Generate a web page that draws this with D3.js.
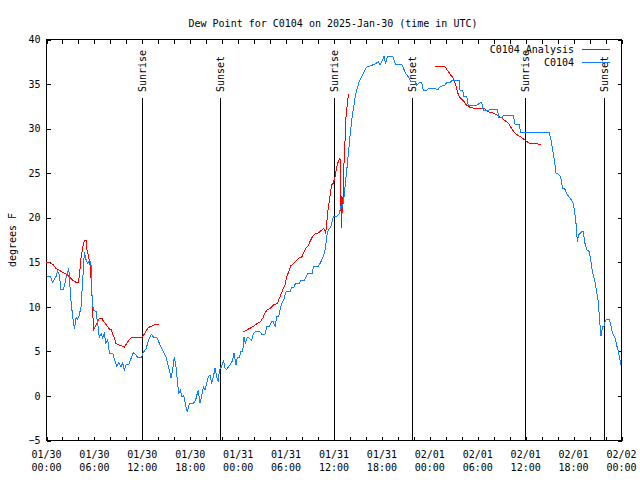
<!DOCTYPE html>
<html>
<head>
<meta charset="utf-8">
<script src="https://cdn.jsdelivr.net/npm/d3@7"></script>
<style>
  html, body { margin: 0; padding: 0; background: #fff; }
  svg { display: block; }
  text { font-family: "DejaVu Sans Mono", "Liberation Mono", monospace; font-size: 10px; fill: #000; }
</style>
</head>
<body>
<svg id="chart" width="640" height="480"></svg>
<script>
// ---- Data (hours since 2025-01-30 00:00 UTC, dew point in °F) ----
const titleText = "Dew Point for C0104 on 2025-Jan-30 (time in UTC)";
const yLabelText = "degrees F";
const seriesNames = ["C0104 Analysis", "C0104"];
const seriesColors = ["#ff0000", "#1080ff"];

const obsHours = [0.0,0.5,0.77,0.98,1.19,1.4,1.6,1.82,2.1,2.23,2.44,2.65,2.78,2.94,3.07,3.28,3.49,3.7,3.9,4.11,4.32,4.53,4.74,4.95,5.15,5.36,5.57,5.65,5.86,6.2,6.41,6.62,6.83,7.03,7.24,7.45,7.66,7.87,8.28,8.49,8.79,9.04,9.33,9.54,9.75,9.95,10.29,10.58,10.87,11.12,11.42,11.92,12.04,12.46,12.67,12.88,13.13,13.38,13.8,14.13,14.55,14.96,15.17,15.38,15.59,15.8,16.0,16.21,16.42,16.55,16.76,16.97,17.18,17.38,17.63,17.88,18.3,18.51,18.72,
  18.8,19.0,19.22,19.43,19.64,19.85,20.06,20.27,20.48,20.69,20.9,21.1,21.31,21.52,21.65,21.94,22.15,22.36,22.56,22.98,23.31,23.48,23.73,23.9,24.15,24.32,24.57,24.73,24.9,25.15,25.4,25.69,25.9,26.15,26.74,26.95,27.36,27.57,27.9,28.2,28.41,28.62,28.82,29.07,29.24,29.45,29.74,29.99,30.49,30.7,30.99,31.16,31.66,31.83,32.25,32.5,32.7,33.29,33.41,34.04,34.46,34.75,34.96,35.08,35.29,35.6,35.92,36.4,36.67,36.84,37.05,37.17,37.38,37.6,37.8,38.0,38.2,38.4,38.63,38.84,39.17,39.47,39.76,40.1,40.72,41.14,41.55,41.76,41.97,42.26,42.47,42.68,43.35,43.52,43.68,44.48,44.68,44.98,45.31,45.6,46.14,46.35,46.77,46.98,47.19,47.6,47.81,48.44,49.07,49.27,49.9,50.11,50.53,50.74,51.7,51.78,52.11,52.28,52.61,52.82,53.87,54.28,54.5,54.7,55.3,55.53,56.45,56.66,57.0,57.2,58.45,58.66,59.2,59.37,62.96,63.17,63.38,63.59,63.8,64.09,64.38,64.63,64.92,65.2,65.55,65.88,66.1,66.3,66.47,66.6,66.8,67.0,67.22,67.43,67.64,67.97,68.14,68.39,68.68,68.89,69.1,69.22,69.43,69.64,69.81,69.98,70.23,70.48,70.64,70.89,71.19,71.39,71.6,71.81,71.9];
const obsValues = [13.4,13.4,12.75,13.1,13.4,14.0,13.6,11.9,11.9,12.3,13.2,13.8,14.4,12.3,10.6,8.9,7.5,8.8,8.6,9.1,10.0,13.0,16.1,15.3,14.9,15.2,14.9,11.9,9.6,9.5,8.1,6.5,7.0,6.5,7.0,5.9,6.3,4.8,4.8,4.2,3.35,3.7,3.3,3.7,2.9,3.5,3.5,4.2,4.85,4.7,4.3,4.3,4.8,5.3,5.9,6.5,6.9,6.6,6.6,5.9,5.1,4.4,3.65,2.9,2.0,2.9,4.4,3.3,1.4,0.3,0.6,-0.1,0.1,-0.9,-1.8,-0.9,-0.9,-0.7,-0.3,
  0.0,0.66,-0.8,0.0,1.0,0.66,1.4,2.16,2.3,1.4,2.16,3.1,2.16,1.6,2.9,3.3,4.0,3.1,3.0,3.5,4.0,4.8,3.5,4.3,4.3,5.0,5.0,6.6,5.9,6.6,6.5,6.2,7.0,7.2,7.2,6.9,6.9,7.8,7.8,8.3,8.3,7.8,8.9,8.9,9.6,10.4,10.9,11.7,11.7,12.2,12.2,12.6,12.6,12.9,12.9,13.4,13.7,13.7,14.5,14.5,15.25,15.9,16.75,17.9,18.6,19.0,20.1,20.2,20.5,21.3,21.3,21.6,23.5,25.35,27.2,29.1,30.8,32.1,33.4,34.3,35.3,35.8,36.4,36.9,37.1,37.25,37.5,37.1,37.5,38.1,37.3,38.1,38.1,37.7,37.25,37.25,36.8,36.2,35.8,35.3,35.3,34.9,35.2,35.2,34.25,34.25,34.5,34.5,34.4,34.7,34.9,35.15,35.15,35.4,35.4,34.3,34.3,33.6,33.6,32.6,32.6,32.9,32.9,32.0,32.0,32.2,32.2,31.2,31.2,31.5,31.5,30.5,30.5,29.55,29.55,28.7,27.6,26.5,25.0,24.9,24.6,23.3,23.2,22.6,22.2,21.8,20.9,19.4,17.3,18.0,18.25,18.4,18.4,17.1,16.4,16.2,15.3,13.8,12.8,11.7,10.6,8.9,6.7,7.8,7.8,8.5,8.6,8.6,8.0,7.0,6.5,5.7,5.0,4.0,3.5];

// Analysis: NaN marks the gaps between runs
const anaHours = [0.0,0.56,0.85,1.19,1.6,2.0,2.44,2.86,3.28,3.7,3.98,4.11,4.32,4.53,4.74,4.95,5.07,5.28,5.49,5.65,5.78,5.9,6.12,6.41,6.62,6.95,7.12,7.45,7.87,8.07,8.28,8.49,8.7,9.12,9.75,10.04,10.37,10.7,11.96,12.25,12.54,12.8,13.2,13.5,14.04,
  19.0,
  24.65,25.07,25.5,25.9,26.32,26.74,27.07,27.36,27.65,27.99,28.4,28.9,29.24,29.57,29.87,30.08,30.41,30.58,30.9,31.33,31.66,31.95,32.16,32.5,32.79,33.08,33.33,33.62,34.04,34.46,34.67,34.84,34.96,35.08,35.29,35.5,35.71,35.92,36.13,36.34,36.54,36.75,36.84,36.92,37.0,37.09,37.25,37.38,37.5,37.67,37.8,37.92,
  43.0,
  48.65,49.9,50.11,50.32,50.53,50.82,51.03,51.15,51.36,51.57,51.78,52.11,52.4,52.61,53.03,53.45,54.07,54.28,54.9,55.3,55.74,56.16,56.58,57.0,57.41,57.83,58.12,58.37,58.66,59.08,59.5,59.92,60.21,60.54,61.17,61.9];
const anaValues = [15.0,14.9,14.7,14.3,14.1,13.9,13.7,13.4,13.0,12.75,12.75,13.4,15.45,16.6,17.5,17.5,16.4,15.6,14.5,12.1,9.6,7.4,7.8,8.3,8.7,8.7,8.4,8.0,7.5,7.5,7.0,6.5,5.9,5.7,5.5,5.9,6.3,6.6,6.6,6.95,7.4,7.7,7.85,8.0,8.0,
  NaN,
  7.2,7.4,7.6,7.8,8.1,8.3,8.7,9.3,9.7,9.8,10.2,10.4,11.1,11.9,12.5,13.4,14.1,14.6,14.8,15.25,15.55,15.55,16.0,16.6,16.9,17.5,17.9,18.2,18.3,18.6,18.8,18.6,18.2,19.4,21.2,22.4,23.7,23.9,24.6,25.7,26.3,26.7,22.7,18.8,22.4,20.5,26.0,28.7,31.3,32.8,33.8,33.9,
  NaN,
  37.0,36.95,36.65,36.4,36.1,35.8,35.45,35.1,34.5,33.8,33.5,33.2,32.9,32.6,32.4,32.3,32.2,32.3,32.2,31.9,31.8,31.65,31.4,31.2,30.9,30.6,30.2,29.85,29.5,29.2,29.0,28.7,28.5,28.35,28.3,28.24];

const sunriseHours = [12.0, 36.0, 59.95];
const sunsetHours = [21.78, 45.77, 69.83];
const yTickValues = [-5, 0, 5, 10, 15, 20, 25, 30, 35, 40];
const yDomain = [-5, 40];
const startTime = Date.UTC(2025, 0, 30, 0, 0);
const endTime = Date.UTC(2025, 1, 2, 0, 0);

// ---- Drawing ----
const toDate = h => new Date(startTime + h * 3600000);
const svg = d3.select("#chart");
const L = 46.5, R = 621.5, T = 39.5, B = 440.5;

const x = d3.scaleUtc().domain([new Date(startTime), new Date(endTime)]).range([L, R]);
const y = d3.scaleLinear().domain(yDomain).range([B, T]);

// title
svg.append("text").attr("x", 333).attr("y", 27).attr("text-anchor", "middle").text(titleText);

// y label
svg.append("text")
  .attr("transform", "translate(12,240) rotate(-90)")
  .attr("text-anchor", "middle").attr("dy", "0.35em").text(yLabelText);

const axStyle = g => {
  g.select(".domain").remove();
  g.selectAll("line").attr("stroke", "#000").attr("shape-rendering", "crispEdges");
};

// x ticks: minor every 2h, major every 6h, bottom and top (inward)
const minorTicks = x.ticks(d3.utcHour.every(2));
svg.append("g").attr("transform", `translate(0,${B})`)
  .call(d3.axisBottom(x).tickValues(minorTicks).tickSize(-4).tickFormat(""))
  .call(axStyle);
svg.append("g").attr("transform", `translate(0,${T})`)
  .call(d3.axisTop(x).tickValues(minorTicks).tickSize(-4).tickFormat(""))
  .call(axStyle);

const majorTicks = x.ticks(d3.utcHour.every(6));
const fmtDay = d3.utcFormat("%m/%d"), fmtHour = d3.utcFormat("%H:%M");
const xl = svg.append("g");
majorTicks.forEach(t => {
  const tx = xl.append("text").attr("text-anchor", "middle");
  tx.append("tspan").attr("x", x(t)).attr("y", 457.5).text(fmtDay(t));
  tx.append("tspan").attr("x", x(t)).attr("y", 471).text(fmtHour(t));
});

// y ticks left with labels, right mirrored
svg.append("g").attr("transform", `translate(${L},0)`)
  .call(d3.axisLeft(y).tickValues(yTickValues).tickSize(-4).tickPadding(6).tickFormat(d3.format("d")))
  .call(axStyle)
  .call(g => g.selectAll("text").attr("font-family", null).attr("font-size", null).attr("fill", "#000"));
svg.append("g").attr("transform", `translate(${R},0)`)
  .call(d3.axisRight(y).tickValues(yTickValues).tickSize(-4).tickFormat(""))
  .call(axStyle);

// frame
svg.append("rect").attr("x", L).attr("y", T).attr("width", R - L).attr("height", B - T)
  .attr("fill", "none").attr("stroke", "#000").attr("shape-rendering", "crispEdges");

// sunrise / sunset markers
const sunEvents = sunriseHours.map(h => ({h, label: "Sunrise"}))
  .concat(sunsetHours.map(h => ({h, label: "Sunset"})));
sunEvents.forEach(e => {
  const xp = x(toDate(e.h));
  svg.append("line").attr("x1", xp).attr("x2", xp).attr("y1", 98).attr("y2", B)
    .attr("stroke", "#000").attr("shape-rendering", "crispEdges");
  svg.append("text").attr("transform", `translate(${xp},92) rotate(-90)`)
    .attr("dy", "0.35em").attr("text-anchor", "start").text(e.label);
});

// series
const line = d3.line()
  .defined(d => !isNaN(d[1]))
  .x(d => x(toDate(d[0])))
  .y(d => y(d[1]));

const anaData = anaHours.map((h, i) => [h, anaValues[i]]);
const obsData = obsHours.map((h, i) => [h, obsValues[i]]);

svg.append("path").datum(anaData).attr("d", line)
  .attr("fill", "none").attr("stroke", seriesColors[0]).attr("stroke-width", 1)
  .attr("shape-rendering", "crispEdges");
svg.append("path").datum(obsData).attr("d", line)
  .attr("fill", "none").attr("stroke", seriesColors[1]).attr("stroke-width", 1)
  .attr("shape-rendering", "crispEdges");

// legend
const legY = [53, 66], legLineY = [49.5, 62.5];
seriesNames.forEach((name, i) => {
  svg.append("text").attr("x", 574).attr("y", legY[i]).attr("text-anchor", "end").text(name);
  svg.append("line").attr("x1", 582).attr("x2", 610).attr("y1", legLineY[i]).attr("y2", legLineY[i])
    .attr("stroke", seriesColors[i]).attr("stroke-width", 1).attr("shape-rendering", "crispEdges");
});
</script>
</body>
</html>
